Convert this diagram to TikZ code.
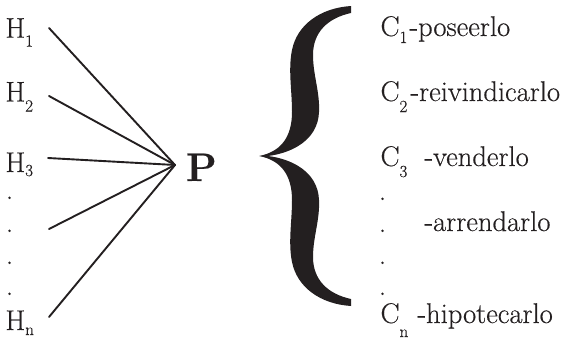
\documentclass[tikz,border=0pt]{standalone}
\usepackage{graphicx}
\usepackage{fontspec}
\setmainfont{Latin Modern Roman}[FakeBold=0.35]
\definecolor{ink}{HTML}{231F20}
\newcommand\subl[2]{\raisebox{-#1pt}{\fontsize{17}{17}\selectfont #2}}
\begin{document}
\begin{tikzpicture}[x=1pt,y=-1pt,
  lbl/.style={anchor=base west,inner sep=0pt,outer sep=0pt,font=\fontsize{28.5}{30}\selectfont,text=ink},
  bigp/.style={anchor=base west,inner sep=0pt,outer sep=0pt,font=\fontsize{40}{40}\selectfont\bfseries,text=ink},
  conn/.style={draw=ink,line width=1.9pt,line cap=round},
  bracefill/.style={fill=ink,draw=none}]
\useasboundingbox (0,0) rectangle (570,340);
% left labels
\node[lbl] (h1) at (5.5,37.7) {H\subl{9}{1}};
\node[lbl] (h2) at (5.5,101.5) {H\subl{10}{2}};
\node[lbl] (h3) at (5.5,172) {H\subl{4}{3}};
\node[lbl] (d1) at (6,199) {.};
\node[lbl] (d2) at (6,232) {.};
\node[lbl] (d3) at (6,264) {.};
\node[lbl] (d4) at (6,295) {.};
\node[lbl] (hn) at (5.5,330) {H\subl{5}{n}};
% P
\node[bigp] (p) at (186,181) {P};
% connectors
\coordinate (pv) at (175,165);
\coordinate (s1) at (49,28);
\coordinate (s2) at (49,96);
\coordinate (s3) at (48,158);
\coordinate (s4) at (49,229);
\coordinate (s5) at (49,317);
\foreach \s in {s1,s2,s3,s4,s5} \draw[conn] (\s) -- (pv);
% brace
\path[bracefill] (351,6)
  .. controls (320,8) and (297,25) .. (292,50)
  .. controls (288,70) and (292,90) .. (292,112)
  .. controls (292,138) and (280,152) .. (259,156)
  .. controls (280,160) and (292,174) .. (292,200)
  .. controls (292,222) and (288,242) .. (292,262)
  .. controls (297,287) and (320,304) .. (351,306)
  -- (351,299)
  .. controls (328,294) and (313,280) .. (313,257)
  .. controls (313,237) and (320,220) .. (319,200)
  .. controls (318,172) and (292,159) .. (268,156)
  .. controls (292,153) and (318,140) .. (319,112)
  .. controls (320,92) and (313,75) .. (313,55)
  .. controls (313,32) and (328,18) .. (351,13) -- cycle;
% right labels
\node[lbl] (c1) at (380.5,36) {C\subl{7}{1}};
\node[lbl] (w1) at (409.5,36) {-poseerlo};
\node[lbl] (c2) at (380.5,101) {C\subl{11}{2}};
\node[lbl] (w2) at (410.5,101) {-reivindicarlo};
\node[lbl] (c3) at (380.5,166) {C\subl{11}{3}};
\node[lbl] (w3) at (424.5,166) {-venderlo};
\node[lbl] (e1) at (379,200) {.};
\node[lbl] (e2) at (379,232) {.};
\node[lbl] (wa) at (424.5,231) {-arrendarlo};
\node[lbl] (e3) at (379,264) {.};
\node[lbl] (e4) at (379,295) {.};
\node[lbl] (cn) at (380.5,323) {C\subl{14}{n}};
\node[lbl] (wn) at (417.5,323) {-hipotecarlo};
\end{tikzpicture}
\end{document}
